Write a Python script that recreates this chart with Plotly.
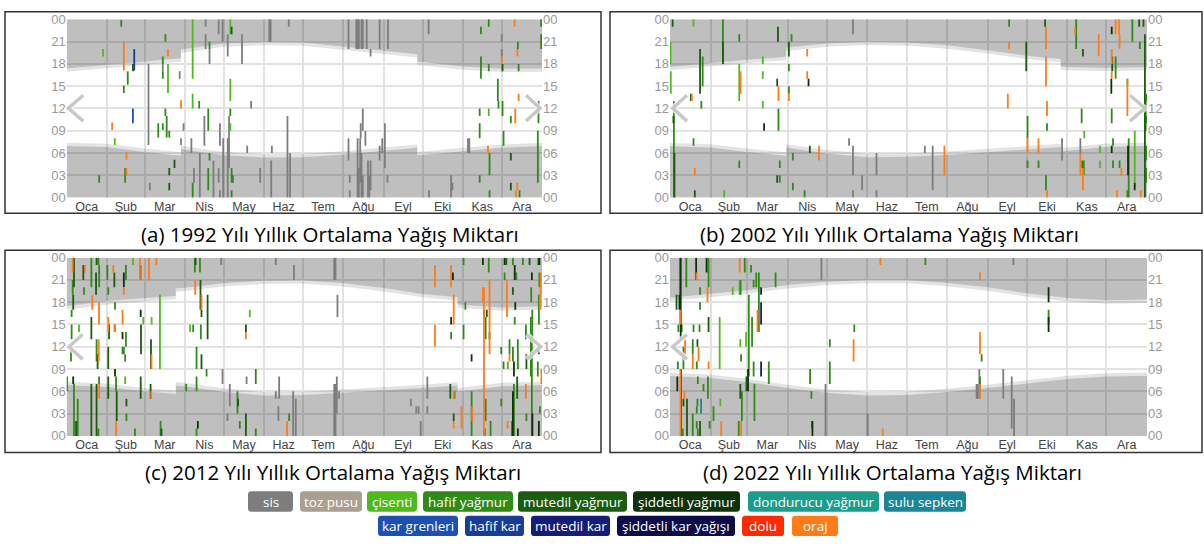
import plotly.graph_objects as go

W, H = 1204, 547

# ---------------- data ----------------
MONTHS = ['Oca', 'Şub', 'Mar', 'Nis', 'May', 'Haz', 'Tem', 'Ağu', 'Eyl', 'Eki', 'Kas', 'Ara']
HOUR_TICKS = [0, 3, 6, 9, 12, 15, 18, 21, 24]
HOUR_LABELS = ['00', '03', '06', '09', '12', '15', '18', '21', '00']

KINDS = ['sis', 'toz', 'cis', 'haf', 'mut', 'sid', 'don', 'sul', 'kgr', 'hkr', 'mkr', 'skr', 'dol', 'orj']
KIND_NAMES = ['sis', 'toz pusu', 'çisenti', 'hafif yağmur', 'mutedil yağmur', 'şiddetli yağmur',
              'dondurucu yağmur', 'sulu sepken', 'kar grenleri', 'hafif kar', 'mutedil kar',
              'şiddetli kar yağışı', 'dolu', 'oraj']
KIND_COLORS = ['#7d7d7d', '#aaa092', '#4fba1e', '#2f8b17', '#1b5c0f', '#0e3308', '#1c9c8b', '#1a8697',
               '#1d50b2', '#1b3c96', '#141e78', '#0c0c48', '#ff2b00', '#ff7b17']

CAPTIONS = ['(a) 1992 Yılı Yıllık Ortalama Yağış Miktarı', '(b) 2002 Yılı Yıllık Ortalama Yağış Miktarı',
            '(c) 2012 Yılı Yıllık Ortalama Yağış Miktarı', '(d) 2022 Yılı Yıllık Ortalama Yağış Miktarı']
YEARS = [1992, 2002, 2012, 2022]

# night edges (clock hour) at day-of-year
EDGE_DAYS_1992 = [0, 31, 60, 88, 88, 91, 121, 152, 182, 213, 244, 270, 270, 274, 305, 335, 366]
SUNSET_1992 = [17.4, 17.9, 18.3, 18.75, 19.95, 20.0, 20.75, 20.95, 20.9, 20.35, 19.75, 19.3, 18.3, 18.25, 17.65, 17.35, 17.4]
SUNRISE_1992 = [6.95, 6.8, 6.15, 5.65, 6.6, 6.45, 5.7, 5.4, 5.45, 5.8, 6.3, 6.7, 5.7, 5.75, 6.25, 6.7, 6.95]

EDGE_DAYS_2002 = [0, 31, 59, 89, 89, 120, 151, 181, 212, 243, 273, 299, 299, 304, 334, 365]
SUNSET_2002 = [17.6, 18.15, 18.55, 18.95, 20.2, 20.75, 21.0, 20.9, 20.5, 19.85, 19.1, 18.65, 17.65, 17.6, 17.45, 17.6]
SUNRISE_2002 = [6.9, 6.75, 6.15, 5.65, 6.75, 5.95, 5.45, 5.5, 5.75, 6.1, 6.45, 6.8, 6.25, 6.3, 6.85, 6.95]

EDGE_DAYS_2012 = [0, 31, 60, 84, 84, 91, 121, 152, 182, 213, 244, 274, 301, 301, 305, 335, 366]
SUNSET_2012 = [17.45, 18.15, 18.55, 18.85, 19.85, 19.95, 20.55, 20.9, 20.95, 20.55, 19.9, 19.1, 18.65, 17.7, 17.65, 17.3, 17.45]
SUNRISE_2012 = [6.85, 6.6, 6.0, 5.65, 6.8, 6.7, 5.95, 5.45, 5.5, 5.8, 6.15, 6.45, 6.8, 6.0, 6.05, 6.7, 6.85]

EDGE_DAYS_2022 = [0, 31, 59, 90, 120, 151, 181, 212, 243, 273, 304, 334, 365]
SUNSET_2022 = [18.6, 19.1, 19.6, 20.3, 20.75, 21.0, 21.0, 20.6, 20.0, 19.2, 18.55, 18.25, 18.35]
SUNRISE_2022 = [8.05, 7.8, 7.25, 6.45, 5.8, 5.45, 5.5, 5.9, 6.45, 7.0, 7.65, 8.0, 8.1]

# events: (day of year, start hour, end hour, kind)
EVENTS_1992 = [
    (42, 23, 23.9, 'haf'), (28, 19, 20, 'cis'), (25, 2, 3, 'haf'), (44, 17.1, 21, 'orj'), (52, 17.1, 20, 'hkr'),
    (51, 17, 18, 'mut'), (47, 15.2, 17, 'haf'), (44, 14.1, 15.1, 'haf'), (51, 10, 12, 'kgr'), (35, 9.1, 10.1, 'orj'),
    (37, 7.1, 8, 'cis'), (46, 5.1, 6.1, 'orj'), (45, 2, 4, 'haf'), (46, 3, 4, 'orj'), (63, 7.1, 18, 'sis'),
    (64, 1, 2, 'sis'), (76, 21, 22, 'haf'), (78, 19, 20, 'orj'), (74, 18, 19, 'haf'), (74, 17, 18, 'sis'),
    (74, 16, 17, 'haf'), (78, 14.1, 18, 'cis'), (87, 16, 17, 'sis'), (88, 12, 13.1, 'orj'), (76, 11, 12, 'haf'),
    (70.5, 8.1, 10, 'haf'), (74, 9.1, 10, 'haf'), (77, 8.1, 11, 'haf'), (79, 8.1, 9, 'haf'), (90, 9, 10, 'sis'),
    (88, 7.1, 8, 'sis'), (83, 4, 5.1, 'mut'), (79, 3, 4, 'mut'), (79, 1, 2, 'mut'), (97, 16, 24, 'cis'),
    (97, 0, 2, 'haf'), (97, 12, 14, 'cis'), (102, 12, 13, 'haf'), (107, 23, 24, 'sis'), (107, 20, 22, 'sis'),
    (110, 20, 21, 'haf'), (110, 18, 20, 'sis'), (117, 22, 24, 'sis'), (120, 21, 24, 'sis'), (126, 22, 24, 'cis'),
    (127, 22, 23, 'mut'), (124, 19, 22, 'sis'), (135, 18, 22, 'sis'), (126, 13, 16, 'cis'), (126, 11, 12, 'haf'),
    (126, 9, 10, 'cis'), (142, 12, 13, 'sis'), (109, 9, 12, 'haf'), (106, 7, 11, 'sis'), (96, 6, 8, 'sis'),
    (118, 7, 10, 'sis'), (125, 4, 11, 'sis'), (124, 0, 8, 'sis'), (120.5, 0, 8, 'sis'), (139, 6, 7, 'sis'),
    (158, 6, 7, 'sis'), (170, 0, 11, 'sis'), (171, 23, 24, 'sis'), (156, 21, 24, 'sis'), (157, 21, 24, 'sis'),
    (157.5, 0, 5, 'sis'), (149, 2, 4, 'sis'), (172, 0, 6, 'sis'), (110, 5, 6, 'haf'), (109, 1, 4, 'haf'),
    (127, 2, 4, 'haf'), (128, 2, 3, 'haf'), (127, 0, 1, 'haf'), (113, 0, 5, 'sis'), (117, 2, 4, 'sis'),
    (102.5, 0, 6, 'sis'), (98, 2, 4, 'sis'), (118, 0, 1, 'sis'),
    (217, 20, 24, 'sis'), (223, 20, 24, 'sis'), (224, 20, 24, 'sis'), (225, 20, 24, 'sis'), (227, 20, 24, 'sis'),
    (228, 20, 24, 'sis'), (231, 20, 24, 'sis'), (234, 19, 20, 'sis'), (241, 20, 24, 'sis'), (247.4, 20, 24, 'sis'),
    (278.7, 22, 24, 'sis'), (217, 5, 8, 'sis'), (218, 2, 3, 'sis'), (218, 0, 1, 'sis'), (224, 0, 8, 'sis'),
    (225, 0, 4, 'sis'), (226, 2, 8, 'sis'), (227, 0, 6, 'sis'), (228, 0, 3, 'sis'), (228, 9, 12, 'sis'),
    (226.4, 8, 10, 'sis'), (230, 7, 9, 'sis'), (232, 0, 5, 'sis'), (233, 0, 3, 'sis'), (234, 1, 5, 'sis'),
    (241, 5, 7, 'sis'), (243, 6, 8, 'sis'), (245, 4, 10, 'sis'), (247, 2, 3, 'sis'), (297, 1, 2, 'sis'),
    (296, 0, 3, 'sis'), (279, 0, 1, 'sis'), (309, 6, 8, 'sis'), (310, 6, 8, 'sis'),
    (325, 23, 24, 'haf'), (319, 22, 23, 'haf'), (319, 16, 19, 'haf'), (325, 17, 18, 'haf'), (332, 13, 16, 'haf'),
    (335, 21, 22, 'sis'), (335, 19, 20, 'sis'), (335, 18, 19, 'orj'), (335.6, 17, 18, 'mut'), (332.5, 12, 13, 'haf'),
    (335.6, 11, 13, 'haf'), (347.4, 20, 21, 'haf'), (347, 19, 20, 'orj'), (348, 17, 18, 'haf'), (348, 13, 14, 'orj'),
    (345.4, 10, 12, 'orj'), (342, 10, 11, 'haf'), (318, 11, 12, 'haf'), (325, 11, 12, 'cis'), (318, 8, 10, 'haf'),
    (336.4, 7, 9, 'haf'), (324.4, 6, 7, 'orj'), (325.6, 3, 6, 'haf'), (318, 2, 3, 'haf'), (325.6, 0, 1, 'haf'),
    (342, 5, 6, 'mut'), (342, 1, 2, 'mut'), (347, 1, 2, 'orj'), (346, 0, 1, 'orj'), (348.7, 0, 1, 'haf'),
    (365.3, 23, 24, 'haf'), (365.3, 20, 22, 'haf'), (363.3, 10, 13, 'haf'), (362.8, 2, 9, 'haf'), (344.9, 23, 24, 'orj'),
]

EVENTS_2002 = [
    (2, 23, 24, 'mut'), (18, 23, 24, 'cis'), (0.4, 18, 21, 'cis'), (0.6, 14, 17, 'cis'), (3, 0, 13, 'haf'),
    (2.6, 10, 11, 'mut'), (3.4, 0, 6, 'mut'), (16.7, 13, 14, 'orj'), (16, 13, 14, 'mut'), (24, 12, 13, 'haf'),
    (23, 14, 20, 'mut'), (25, 15, 19, 'haf'), (18, 7, 8, 'haf'), (19, 3, 4, 'orj'), (19, 0, 1, 'mut'),
    (40.5, 18, 24, 'haf'), (40.5, 18, 21, 'mut'), (53, 21, 22, 'haf'), (53, 13, 18, 'cis'), (54, 14, 17, 'orj'),
    (53, 4, 5, 'haf'), (41.5, 0, 1, 'cis'), (71, 18, 19, 'cis'), (71, 16, 17, 'cis'), (71, 12, 13, 'cis'),
    (82.6, 21, 23, 'mut'), (83, 13, 15, 'orj'), (82, 15, 16, 'mut'), (83, 9, 12, 'haf'), (72, 9, 10, 'sid'),
    (84, 4, 5, 'haf'), (82, 2, 3, 'mut'), (84, 2, 3, 'haf'), (93, 21, 22, 'haf'), (91, 19, 21, 'mut'),
    (91, 17, 18, 'haf'), (91, 14, 15, 'haf'), (91, 13, 14, 'orj'), (105, 19, 20, 'orj'), (105, 16, 17, 'orj'),
    (106, 15, 16, 'sid'), (107, 6, 7, 'mut'), (114, 5, 7, 'orj'), (94, 5, 6, 'haf'), (94, 1, 2, 'haf'),
    (103, 0, 1, 'haf'), (140, 22, 24, 'sis'), (137, 7, 8, 'sis'), (140, 3, 7, 'sis'), (147, 1, 3, 'sis'),
    (140, 0, 1, 'sis'), (158, 3, 6, 'sis'), (158, 0, 1, 'sis'), (195, 6, 7, 'sis'), (201, 1, 7, 'sis'),
    (210, 3, 7, 'orj'), (259.5, 23, 24, 'haf'), (259.5, 20, 21, 'orj'), (272.6, 17, 21, 'mut'), (258.5, 12, 14, 'orj'),
    (273.6, 8, 11, 'haf'), (273.6, 6, 8, 'orj'), (273.6, 4, 5, 'haf'), (282, 6, 8, 'orj'), (282, 4, 5, 'haf'),
    (287, 23, 24, 'mut'), (287.7, 20, 23, 'orj'), (287.7, 15, 19, 'orj'), (288.5, 11, 13, 'orj'), (288.5, 9, 10, 'haf'),
    (287.7, 1, 3, 'haf'), (288.5, 0, 1, 'orj'), (300, 5, 8, 'sis'), (310.8, 20, 24, 'haf'), (310, 22, 23, 'orj'),
    (316, 19, 20, 'mut'), (328, 19, 22, 'orj'), (315, 10, 12, 'haf'), (317, 8, 9, 'cis'), (314, 6, 8, 'sis'),
    (314, 3, 6, 'orj'), (315.4, 4, 5, 'haf'), (316, 1, 4, 'orj'), (329, 6, 7, 'cis'), (329, 4, 5, 'cis'),
    (316.6, 3, 5, 'haf'), (341, 22, 24, 'orj'), (343.6, 22, 24, 'orj'), (338, 22, 23, 'sid'), (344, 20, 22, 'orj'),
    (353.8, 21, 24, 'haf'), (359, 23, 24, 'mut'), (362.3, 23, 24, 'mut'), (359.5, 20, 21, 'haf'), (363.4, 0, 22, 'mut'),
    (338, 18, 20, 'orj'), (338.4, 17, 19, 'mut'), (341, 16, 19, 'haf'), (338, 16, 17, 'orj'), (337.7, 14, 16, 'sid'),
    (350, 11, 16, 'orj'), (350, 15, 16, 'cis'), (338, 10, 12, 'haf'), (364.6, 13, 14, 'haf'), (364.6, 10, 11, 'haf'),
    (364, 9, 13, 'haf'), (339, 7, 8, 'haf'), (338, 6, 7, 'sid'), (339, 4, 5, 'haf'), (344, 4, 5, 'haf'),
    (345.4, 3, 4, 'orj'), (350.5, 3, 7, 'sid'), (351, 0, 8, 'haf'), (355.6, 1, 2, 'sid'), (355.6, 2, 9, 'cis'),
    (342, 0, 1, 'orj'), (360.3, 0, 1, 'orj'), (350, 0, 1, 'haf'), (364.8, 2, 4, 'haf'), (364.6, 5, 7, 'haf'),
]

EVENTS_2012 = [
    (4.6, 22, 24, 'orj'), (5.6, 20, 24, 'mut'), (4.6, 19, 21, 'haf'), (5, 17, 19, 'mut'), (3.8, 16, 17, 'haf'),
    (3.8, 13, 15, 'haf'), (3.3, 10, 12, 'haf'), (0.3, 6, 8, 'haf'), (5, 7, 8, 'sid'), (5.6, 0, 7, 'haf'),
    (7.2, 0, 2, 'mut'), (8.5, 0, 5, 'haf'), (9.5, 14, 15, 'cis'), (14, 22, 23, 'orj'), (12.8, 21, 23, 'mut'),
    (13.3, 19, 20, 'haf'), (19, 20, 24, 'haf'), (19.7, 17, 19, 'orj'), (19, 13, 16, 'mut'), (19, 0, 7, 'mut'),
    (25, 5, 7, 'orj'), (23, 23, 24, 'mut'), (24.4, 23, 24, 'haf'), (22.6, 19, 22, 'mut'), (25, 20, 23, 'haf'),
    (24.9, 15, 18, 'orj'), (24.6, 10, 13, 'orj'), (23, 10, 13, 'haf'), (23.8, 9, 11, 'mut'), (23, 0, 7, 'mut'),
    (24.4, 0, 1, 'haf'), (24.9, 7, 8, 'haf'),
    (31.3, 21, 23, 'haf'), (32, 19, 20, 'haf'), (32, 14, 16, 'orj'), (32.6, 13, 15, 'mut'), (32, 9, 12, 'mut'),
    (32, 5, 8, 'mut'), (35.9, 22, 23, 'orj'), (36.7, 20, 22, 'mut'), (37.2, 17, 18, 'haf'), (37.2, 14, 15, 'orj'),
    (36.9, 14, 15, 'dol'), (43, 15, 17, 'orj'), (44, 19, 20, 'orj'), (44, 20, 22, 'sid'), (45.6, 21, 23, 'haf'),
    (43, 13, 14, 'sid'), (45.6, 12, 14, 'haf'), (43, 11, 12, 'haf'), (44, 11, 12, 'haf'), (45, 10, 11, 'haf'),
    (37.2, 8, 9, 'sid'), (38, 6, 8, 'haf'), (38.5, 2, 6, 'mut'), (38, 0, 2, 'orj'), (45, 7, 8, 'cis'),
    (46, 4, 5, 'mut'), (46, 2, 3, 'haf'), (52.6, 0, 1, 'haf'), (51, 23, 24, 'cis'), (56.4, 21, 24, 'orj'),
    (56.8, 21, 23, 'mut'), (57, 16, 17, 'sid'), (57.2, 11, 15, 'mut'), (57, 5, 8, 'mut'), (59, 15, 16, 'cis'),
    (63.3, 21, 24, 'orj'), (69, 23, 24, 'orj'), (65.4, 15, 16, 'cis'), (64.9, 9, 13, 'mut'), (65.3, 9, 11, 'orj'),
    (65, 5, 6, 'orj'), (64.6, 5, 7, 'mut'), (71.8, 9, 19, 'cis'), (72.3, 0, 2, 'haf'), (73, 0, 1, 'mut'),
    (98.7, 22, 24, 'haf'), (99.3, 23, 24, 'mut'), (99, 19, 21, 'orj'), (103, 17, 21, 'mut'), (103.8, 17, 19, 'orj'),
    (103.8, 16, 17, 'mut'), (103.3, 13, 15, 'haf'), (108.5, 13, 19, 'mut'), (97.4, 14, 15, 'haf'), (95, 14, 15, 'cis'),
    (100, 9, 12, 'haf'), (103.8, 9, 11, 'mut'), (107.7, 8, 9, 'haf'), (92, 6, 7, 'haf'), (100, 6, 8, 'haf'),
    (101, 1, 2, 'sid'), (100, 0, 1, 'haf'), (102.6, 22, 24, 'haf'),
    (119, 23, 24, 'sis'), (120, 7, 9, 'sis'), (125.6, 4, 7, 'sis'), (123.8, 2, 3, 'sis'), (131.5, 3, 6, 'haf'),
    (132, 4, 5, 'mut'), (138, 14, 15, 'mut'), (138, 13, 14, 'orj'), (141, 16, 17, 'cis'), (145.6, 7, 9, 'haf'),
    (138, 0, 3, 'mut'), (133.3, 1, 2, 'haf'), (145.6, 0, 1, 'haf'), (138.5, 7, 8, 'sis'),
    (161, 23, 24, 'sis'), (175, 21, 23, 'sis'), (163.6, 5, 8, 'sis'), (161, 5, 6, 'sis'), (163, 2, 4, 'sis'),
    (174.4, 0, 6, 'sis'), (169.7, 0, 2, 'orj'), (171.3, 2, 3, 'haf'), (176.4, 0, 5, 'sis'),
    (206, 21, 24, 'sis'), (207, 21, 24, 'sis'), (206, 0, 7, 'sis'), (207, 0, 7, 'sis'), (208, 3, 7, 'sis'),
    (208.5, 16, 19, 'sis'), (209.7, 5, 6, 'sis'), (208, 7, 8, 'sis'),
    (265, 4, 5, 'sis'), (269.2, 3, 4, 'sis'), (271, 3, 4, 'sis'), (277.7, 5, 8, 'sis'), (277.7, 3, 4, 'sis'),
    (272.6, 0, 2, 'sis'),
    (283.6, 20, 23, 'orj'), (296, 20, 23, 'orj'), (297.4, 21, 22, 'sid'), (298, 15, 19, 'orj'), (296, 15, 16, 'sid'),
    (283.6, 12, 15, 'orj'), (296, 13, 14, 'haf'), (295.4, 5, 7, 'mut'), (298, 5, 6, 'orj'), (298.7, 5, 6, 'haf'),
    (298, 2, 3, 'mut'), (298, 1, 2, 'orj'), (304, 1, 4, 'orj'), (305.6, 23, 24, 'haf'), (307, 17, 18, 'haf'),
    (305.6, 13, 15, 'haf'), (311.8, 10, 11, 'sid'), (311.8, 0, 6, 'haf'), (312.2, 2, 4, 'orj'), (321.3, 0, 20, 'orj'),
    (320.5, 23, 24, 'sid'), (320.5, 18, 20, 'orj'), (321.3, 16, 17, 'sid'), (322.6, 13, 16, 'haf'), (323.5, 16, 17, 'mut'),
    (325.6, 11, 21, 'orj'), (325, 22, 24, 'haf'), (325.6, 13, 14, 'haf'), (326.4, 0, 2, 'haf'), (322.6, 2, 5, 'haf'),
    (321.8, 0, 1, 'mut'),
    (339, 16, 21, 'orj'), (337.2, 23, 24, 'sid'), (337.2, 21, 22, 'haf'), (338.5, 23, 24, 'mut'), (343.6, 23, 24, 'haf'),
    (343.6, 19, 20, 'mut'), (345, 21, 23, 'sid'), (346.2, 21, 22, 'haf'), (345.4, 17, 18, 'sid'), (345, 15, 16, 'haf'),
    (351.3, 23, 24, 'haf'), (356.4, 23, 24, 'mut'), (358.2, 21, 22, 'sid'), (357.7, 18, 20, 'haf'), (358.5, 13, 17, 'haf'),
    (363.3, 23, 24, 'mut'), (364, 23, 24, 'sid'), (364, 20, 22, 'haf'), (363.6, 15, 19, 'haf'), (365, 19, 22, 'orj'),
    (364.5, 17, 19, 'orj'), (334.6, 11, 12, 'haf'), (336.4, 9, 10, 'haf'), (339.7, 9, 10, 'cis'), (341, 11, 13, 'haf'),
    (341, 10, 11, 'orj'), (343.6, 10, 12, 'haf'), (344.4, 8, 10, 'sid'), (347.4, 9, 13, 'haf'), (346.9, 5, 8, 'mut'),
    (353.6, 13, 15, 'haf'), (354, 9, 11, 'mut'), (357.4, 8, 16, 'haf'), (358.2, 0, 13, 'haf'), (362.8, 8, 10, 'haf'),
    (365.5, 7, 9, 'orj'), (363.5, 11, 12, 'mut'), (353.6, 5, 7, 'orj'), (344.4, 0, 7, 'haf'), (343.6, 0, 6, 'sid'),
    (334.6, 4, 5, 'haf'), (339.5, 1, 2, 'orj'), (342.8, 0, 2, 'haf'), (347.4, 0, 1, 'sid'), (354, 2, 3, 'haf'),
    (358.6, 0, 3, 'sid'), (363.6, 0, 2, 'sid'), (364.4, 3, 4, 'haf'),
]

EVENTS_2022 = [
    (5, 17, 19, 'mut'), (7.2, 17, 19, 'sid'), (7.7, 19, 24, 'haf'), (8.2, 13, 24, 'sid'), (8.5, 0, 9, 'mut'),
    (7.7, 15, 17, 'orj'), (8.0, 0, 9, 'orj'), (6.4, 14, 15, 'haf'), (9, 14, 15, 'haf'), (10.3, 9, 12, 'haf'),
    (11.5, 11, 13, 'orj'), (11, 5, 6, 'orj'), (10.3, 4, 5, 'mut'), (5.6, 6, 8, 'sid'), (6, 9, 10, 'haf'),
    (9.7, 0, 1, 'haf'), (17.4, 11, 13, 'haf'), (17.4, 0, 3, 'haf'), (17.4, 9, 11, 'orj'), (18, 14, 15, 'haf'),
    (20, 21, 24, 'sid'), (20.3, 21, 22, 'orj'), (20.5, 9, 10, 'haf'), (21, 12, 13, 'mut'), (21.3, 7, 8, 'haf'),
    (20.5, 3, 4, 'haf'), (20.5, 1, 2, 'haf'), (21, 4, 5, 'haf'), (23.8, 3, 5, 'sul'), (23, 17, 18, 'haf'),
    (22.6, 14, 15, 'haf'), (21.8, 10, 12, 'orj'), (23, 19, 20, 'haf'), (21.3, 0, 1, 'haf'), (28, 22, 24, 'sid'),
    (29.5, 20, 24, 'haf'), (28.7, 18, 20, 'orj'), (29.5, 14, 16, 'mut'), (29.5, 9, 10, 'orj'), (29, 5, 8, 'haf'),
    (33.3, 2, 4, 'haf'), (30.3, 1, 2, 'haf'), (25.6, 6, 7, 'haf'), (23, 0, 2, 'mut'), (13, 0, 5, 'mut'),
    (12.5, 20, 24, 'haf'),
    (38, 9, 16, 'cis'), (38.5, 4, 5, 'cis'), (48, 19, 20, 'cis'), (39.2, 0, 2, 'orj'), (53.8, 12, 13, 'cis'),
    (54.4, 10, 11, 'haf'), (53.3, 22, 24, 'orj'), (57.2, 22, 24, 'haf'), (62, 22, 23, 'haf'), (53.3, 19, 21, 'cis'),
    (54, 19, 21, 'haf'), (64, 20, 21, 'haf'), (53.8, 5, 7, 'mut'), (55, 2, 6, 'haf'), (54.4, 0, 2, 'orj'),
    (52.6, 0, 2, 'haf'),
    (60.3, 8, 19, 'haf'), (59.7, 6, 9, 'sid'), (67, 14, 17, 'orj'), (68, 14, 22, 'haf'), (69.7, 19, 20, 'mkr'),
    (69.7, 15, 18, 'mkr'), (69.7, 8, 10, 'mkr'), (75.6, 7, 10, 'haf'), (62.8, 12, 16, 'haf'), (64, 8, 10, 'haf'),
    (58.5, 6, 8, 'mut'), (64.6, 2, 7, 'haf'), (80.8, 20, 22, 'haf'), (58.2, 12, 14, 'cis'), (66, 20, 22, 'haf'),
    (107.2, 7, 9, 'haf'), (108.2, 5, 6, 'haf'), (109, 0, 2, 'sid'), (108.6, 1, 2, 'haf'),
    (115.9, 21, 24, 'sis'), (119, 0, 7, 'sis'), (122.3, 12, 13, 'haf'), (122.3, 7, 10, 'haf'), (141, 14, 15, 'haf'),
    (140.5, 10, 13, 'orj'), (151.3, 0, 3, 'sis'), (161, 23, 24, 'orj'), (162.8, 0, 1, 'orj'),
    (195.4, 23, 24, 'haf'), (262.8, 23, 24, 'sis'), (237.2, 21, 22, 'orj'), (237.2, 11, 14, 'orj'),
    (238.5, 10, 11, 'haf'), (236.7, 5, 9, 'sis'), (237.2, 6, 8, 'haf'), (237.2, 5, 7, 'orj'), (234.6, 5, 7, 'sis'),
    (235.4, 5, 7, 'sis'), (255, 5, 9, 'sis'), (261.5, 1, 8, 'sis'), (263.3, 0, 5, 'sis'), (289.7, 18, 20, 'sid'),
    (289.7, 15, 17, 'haf'), (289.7, 14, 16, 'sid'),
]

EVENTS = [EVENTS_1992, EVENTS_2002, EVENTS_2012, EVENTS_2022]
EDGE_DAYS = [EDGE_DAYS_1992, EDGE_DAYS_2002, EDGE_DAYS_2012, EDGE_DAYS_2022]
SUNSETS = [SUNSET_1992, SUNSET_2002, SUNSET_2012, SUNSET_2022]
SUNRISES = [SUNRISE_1992, SUNRISE_2002, SUNRISE_2012, SUNRISE_2022]

# ---------------- layout constants (pixels) ----------------
PLOT_X = [(66.7, 542), (670, 1147), (66.7, 542), (670, 1147)]
PLOT_Y = [(12.7, 196), (12.7, 196), (257.7, 441), (257.7, 441)]
BOXES = [(5, 5, 601, 212), (610, 5, 1202, 212), (5, 250, 601, 458), (610, 250, 1202, 458)]
CAP_POS = [(330, 233), (889, 233), (333, 478), (892, 478)]
TW = 0.45  # twilight band thickness (hours)
NIGHT = 'rgba(0,0,0,0.25)'
TWILIGHT = 'rgba(0,0,0,0.11)'
GRID = '#e2e2e2'
BADGES_X = [(248, 293), (300, 362), (367, 417), (423, 513), (518, 627), (633, 740), (748, 879), (884, 966),
            (378, 458), (465, 524), (531, 610), (617, 735), (742, 784), (792, 838)]
BADGE_ROWS_Y = [(498, 519)] * 8 + [(523, 544)] * 6
CHEVRONS = [
    [(83.3, 90.7), (68.3, 104), (83.3, 117.3)], [(526, 90.7), (540, 104), (526, 117.3)],
    [(687, 90.7), (672.7, 104), (687, 117.3)], [(1130, 90.7), (1145, 104), (1130, 117.3)],
    [(82.7, 336.7), (69, 349.3), (82.7, 362.3)], [(526.7, 336.7), (540.7, 349.3), (526.7, 362.3)],
    [(687, 336.7), (672.7, 349.3), (687, 362.3)],
]


def px(x):
    return x / W


def py(y):
    return 1 - y / H


def month_starts(year):
    lens = [31, 29 if year % 4 == 0 else 28, 31, 30, 31, 30, 31, 31, 30, 31, 30, 31]
    starts = [0]
    for L in lens:
        starts.append(starts[-1] + L)
    return starts


fig = go.Figure()
layout = dict(width=W, height=H, margin=dict(l=0, r=0, t=0, b=0), paper_bgcolor='white',
              plot_bgcolor='white', showlegend=False)
shapes = []
annotations = []

for k in range(4):
    xa = 'x' if k == 0 else f'x{k + 1}'
    yl_i, yr_i = 2 * k + 1, 2 * k + 2
    yl = 'y' if yl_i == 1 else f'y{yl_i}'
    yr = f'y{yr_i}'
    starts = month_starts(YEARS[k])
    ndays = starts[-1]
    mids = [(starts[i] + starts[i + 1]) / 2 for i in range(12)]
    days = EDGE_DAYS[k]
    sunset = SUNSETS[k]
    sunrise = SUNRISES[k]

    common = dict(xaxis=xa, yaxis=yl, mode='lines', line=dict(width=0), hoverinfo='skip')
    fig.add_trace(go.Scatter(x=days, y=[HOUR_TICKS[-1]] * len(days), **common))
    fig.add_trace(go.Scatter(x=days, y=sunset, fill='tonexty', fillcolor=NIGHT, **common))
    fig.add_trace(go.Scatter(x=days, y=[s - TW for s in sunset], fill='tonexty', fillcolor=TWILIGHT, **common))
    fig.add_trace(go.Scatter(x=days, y=[HOUR_TICKS[0]] * len(days), **common))
    fig.add_trace(go.Scatter(x=days, y=sunrise, fill='tonexty', fillcolor=NIGHT, **common))
    fig.add_trace(go.Scatter(x=days, y=[s + TW for s in sunrise], fill='tonexty', fillcolor=TWILIGHT, **common))

    for kind, name, color in zip(KINDS, KIND_NAMES, KIND_COLORS):
        xs, ys = [], []
        for (d, s, e, kd) in EVENTS[k]:
            if kd == kind:
                xs += [d, d, None]
                ys += [s, e, None]
        if xs:
            fig.add_trace(go.Scatter(x=xs, y=ys, mode='lines', name=name, xaxis=xa, yaxis=yl,
                                     line=dict(color=color, width=1.8), hoverinfo='skip'))
    fig.add_trace(go.Scatter(x=days, y=sunset, xaxis=xa, yaxis=yr, mode='lines',
                             line=dict(width=0), hoverinfo='skip'))

    x0, x1 = PLOT_X[k]
    y0, y1 = PLOT_Y[k]
    axname = 'xaxis' if k == 0 else f'xaxis{k + 1}'
    layout[axname] = dict(domain=[px(x0), px(x1)], range=[0, ndays], anchor=yl,
                          tickmode='array', tickvals=mids, ticktext=MONTHS, showgrid=False,
                          ticks='', zeroline=False, showline=False,
                          tickfont=dict(family='Liberation Sans, Arial', size=12.5, color='#444'),
                          minor=dict(tickmode='array', tickvals=starts[1:-1], showgrid=True,
                                     gridcolor=GRID, gridwidth=1.5, ticks=''),
                          fixedrange=True)
    yax = dict(domain=[py(y1), py(y0)], range=[0, 24], tickmode='array', tickvals=HOUR_TICKS,
               ticktext=HOUR_LABELS, ticks='', zeroline=False, showline=False, fixedrange=True,
               tickfont=dict(family='Liberation Sans, Arial', size=13, color='#999'))
    layout['yaxis' if yl_i == 1 else f'yaxis{yl_i}'] = dict(yax, anchor=xa, showgrid=True, gridcolor=GRID,
                                                           gridwidth=1.5, side='left')
    layout[f'yaxis{yr_i}'] = dict(yax, anchor=xa, showgrid=False, side='right', overlaying=yl)

    bx0, by0, bx1, by1 = BOXES[k]
    shapes.append(dict(type='rect', xref='paper', yref='paper', x0=px(bx0), x1=px(bx1), y0=py(by1), y1=py(by0),
                       line=dict(color='#333', width=1.5), layer='above'))
    cx, cy = CAP_POS[k]
    annotations.append(dict(text=CAPTIONS[k], x=px(cx), y=py(cy), xref='paper', yref='paper', showarrow=False,
                            xanchor='center', yanchor='middle',
                            font=dict(family='Open Sans, Noto Sans, sans-serif', size=20.5, color='#000')))

for pts in CHEVRONS:
    path = 'M ' + ' L '.join(f'{px(a)},{py(b)}' for a, b in pts)
    shapes.append(dict(type='path', xref='paper', yref='paper', path=path,
                       line=dict(color='rgba(255,255,255,0.7)', width=6), layer='above'))
    shapes.append(dict(type='path', xref='paper', yref='paper', path=path,
                       line=dict(color='rgba(195,195,195,0.9)', width=3.5), layer='above'))


def rounded(x0, y0, x1, y1, r=3.5):
    pts = [f'M {px(x0 + r)},{py(y0)}', f'L {px(x1 - r)},{py(y0)}', f'Q {px(x1)},{py(y0)} {px(x1)},{py(y0 + r)}',
           f'L {px(x1)},{py(y1 - r)}', f'Q {px(x1)},{py(y1)} {px(x1 - r)},{py(y1)}', f'L {px(x0 + r)},{py(y1)}',
           f'Q {px(x0)},{py(y1)} {px(x0)},{py(y1 - r)}', f'L {px(x0)},{py(y0 + r)}',
           f'Q {px(x0)},{py(y0)} {px(x0 + r)},{py(y0)}', 'Z']
    return ' '.join(pts)


for name, color, (bx0, bx1), (by0, by1) in zip(KIND_NAMES, KIND_COLORS, BADGES_X, BADGE_ROWS_Y):
    shapes.append(dict(type='path', xref='paper', yref='paper', path=rounded(bx0, by0, bx1, by1),
                       fillcolor=color, line=dict(width=0), layer='above'))
    annotations.append(dict(text=name, x=px((bx0 + bx1) / 2), y=py((by0 + by1) / 2), xref='paper', yref='paper',
                            showarrow=False, xanchor='center', yanchor='middle',
                            font=dict(family='Open Sans, Noto Sans, sans-serif', size=13.5, color='white')))

layout['shapes'] = shapes
layout['annotations'] = annotations
fig.update_layout(**layout)
fig.write_html('out.html', config={'displayModeBar': False},
               post_script="document.body.style.margin='0';document.body.style.overflow='hidden';")
